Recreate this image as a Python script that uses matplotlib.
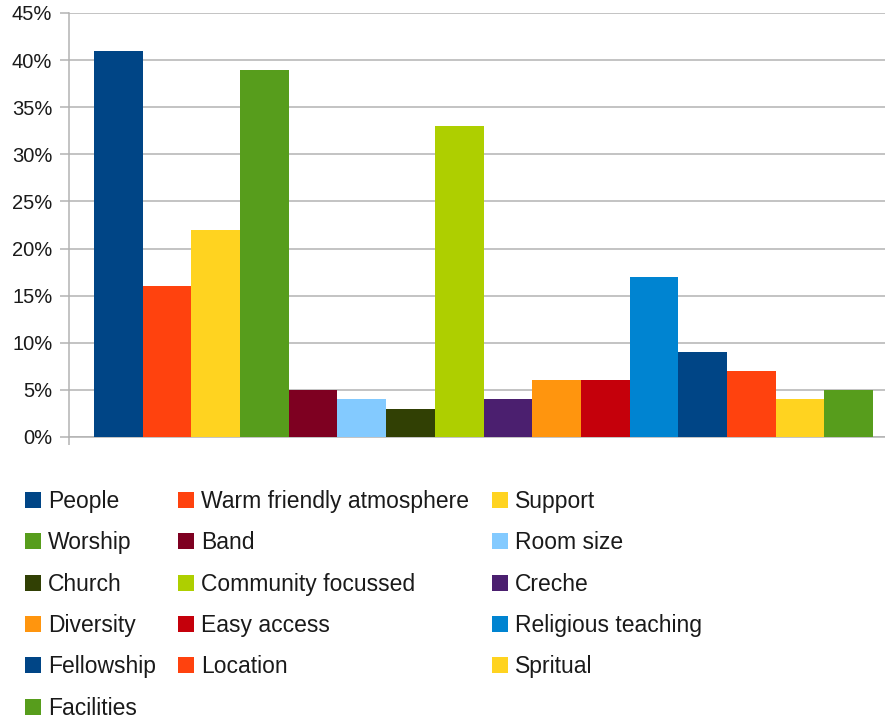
import matplotlib
matplotlib.use("Agg")
import matplotlib.pyplot as plt
from matplotlib.patches import Patch

plt.rcParams['font.family'] = ['Liberation Sans Narrow', 'Liberation Sans', 'DejaVu Sans']

categories = ["People", "Warm friendly atmosphere", "Support", "Worship", "Band",
              "Room size", "Church", "Community focussed", "Creche", "Diversity",
              "Easy access", "Religious teaching", "Fellowship", "Location",
              "Spritual", "Facilities"]
values = [41, 16, 22, 39, 5, 4, 3, 33, 4, 6, 6, 17, 9, 7, 4, 5]
colors = ["#004586", "#ff420e", "#ffd320", "#579d1c", "#7e0021", "#83caff",
          "#314004", "#aecf00", "#4b1f6f", "#ff950e", "#c5000b", "#0084d1",
          "#004586", "#ff420e", "#ffd320", "#579d1c"]
yticks = [0, 5, 10, 15, 20, 25, 30, 35, 40, 45]

fig = plt.figure(figsize=(8.85, 7.19), dpi=100)
ax = fig.add_axes([69 / 885, 1 - 437 / 719, 816 / 885, 424 / 719])

grey = "#b3b3b3"
x = list(range(len(values)))
ax.bar(x, values, width=1.0, align="edge", color=colors, zorder=3)

bw = 779 / 16
ax.set_xlim(-25 / bw, 16 + 12 / bw)
ax.set_ylim(0, 45)
ax.set_yticks(yticks)
ax.set_yticklabels([f"{t}%" for t in yticks], fontsize=14.5, color="#1a1a1a")
ax.yaxis.grid(True, color=grey, linewidth=1.1, zorder=0)
ax.tick_params(axis="y", length=6.5, width=1.1, color=grey, pad=5.5)
ax.set_xticks([-25 / bw])
ax.set_xticklabels([""])
ax.tick_params(axis="x", length=5.8, width=1.1, color=grey)

for side in ["top", "right"]:
    ax.spines[side].set_visible(False)
for side in ["left", "bottom"]:
    ax.spines[side].set_color(grey)
    ax.spines[side].set_linewidth(1.1)

# legend is row-major in the original, matplotlib fills columns
handles = [Patch(facecolor=c) for c in colors]
order = [0, 3, 6, 9, 12, 15, 1, 4, 7, 10, 13, 2, 5, 8, 11, 14]
fig.legend([handles[i] for i in order], [categories[i] for i in order],
           ncol=3, loc="upper left", bbox_to_anchor=(25 / 885, 1 - 490 / 719),
           frameon=False, fontsize=16.5, borderpad=0, borderaxespad=0,
           handlelength=0.7, handleheight=0.7, handletextpad=0.3,
           columnspacing=0.98, labelspacing=0.8, labelcolor="#1a1a1a")

fig.savefig("out.png", dpi=100)
